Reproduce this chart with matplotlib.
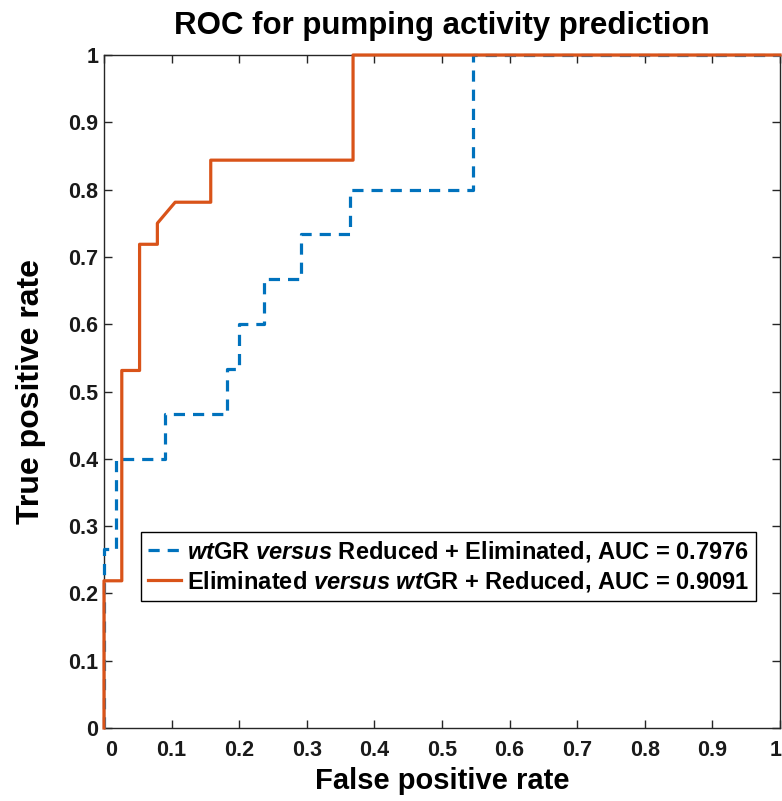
import matplotlib
matplotlib.use("Agg")
import matplotlib.pyplot as plt
import matplotlib.transforms as mtransforms
import numpy as np

# ROC points
fpr_wt = [0, 0, 1/55, 1/55, 5/55, 5/55, 10/55, 10/55, 11/55, 11/55, 13/55, 13/55,
          16/55, 16/55, 20/55, 20/55, 30/55, 30/55, 1]
tpr_wt = [0, 4/15, 4/15, 6/15, 6/15, 7/15, 7/15, 8/15, 8/15, 9/15, 9/15, 10/15,
          10/15, 11/15, 11/15, 12/15, 12/15, 1, 1]

fpr_el = [0, 0, 1/38, 1/38, 2/38, 2/38, 3/38, 3/38, 4/38, 6/38, 6/38, 14/38, 14/38, 1]
tpr_el = [0, 7/32, 7/32, 17/32, 17/32, 23/32, 23/32, 24/32, 25/32, 25/32, 27/32, 27/32, 1, 1]

labels = [r'$\mathit{wt}$GR $\mathit{versus}$ Reduced + Eliminated, AUC = 0.7976',
          r'Eliminated $\mathit{versus}$ $\mathit{wt}$GR + Reduced, AUC = 0.9091']
ticks = np.round(np.arange(0, 1.01, 0.1), 1)
tick_labels = ['0' if t == 0 else ('1' if t == 1 else '%.1f' % t) for t in ticks]

plt.rcParams['font.family'] = 'Liberation Sans'
plt.rcParams['font.weight'] = 'bold'
plt.rcParams['mathtext.fontset'] = 'custom'
plt.rcParams['mathtext.it'] = 'Liberation Sans:bold:italic'
plt.rcParams['mathtext.rm'] = 'Liberation Sans:bold'

fig = plt.figure(figsize=(7.82, 8.01), dpi=100)
ax = fig.add_axes([104/782, 73/801, 676/782, 673/801])

ax.plot(fpr_wt, tpr_wt, '--', color='#0072BD', lw=2.3, dashes=(3.5, 2.5),
        label=labels[0], zorder=3, clip_on=False)
ax.plot(fpr_el, tpr_el, '-', color='#D95319', lw=2.3, label=labels[1],
        zorder=4, clip_on=False)

ax.set_xlim(0, 1)
ax.set_ylim(0, 1)
ax.set_xticks(ticks)
ax.set_xticklabels(tick_labels)
ax.set_yticks(ticks)
ax.set_yticklabels(tick_labels)
ax.tick_params(direction='in', top=True, right=True, length=6, width=1,
               color='#262626', labelsize=15.5, labelcolor='#1a1a1a')
ax.tick_params(axis='x', pad=9)
ax.tick_params(axis='y', pad=4)
for s in ax.spines.values():
    s.set_color('#262626')
    s.set_linewidth(1)

# nudge the end labels like the original
xl = ax.get_xticklabels()
xl[0].set_transform(xl[0].get_transform() + mtransforms.ScaledTranslation(7/100, 0, fig.dpi_scale_trans))
xl[-1].set_transform(xl[-1].get_transform() + mtransforms.ScaledTranslation(-4/100, 0, fig.dpi_scale_trans))

ax.set_title('ROC for pumping activity prediction', fontsize=22.5, fontweight='bold', pad=15)
ax.set_xlabel('False positive rate', fontsize=21, fontweight='bold', labelpad=4)
ax.set_ylabel('True positive rate', fontsize=23, fontweight='bold', labelpad=16)

leg = ax.legend(loc='upper left', bbox_to_anchor=(37/676, 196/673), borderaxespad=0,
                fancybox=False, edgecolor='black', framealpha=1,
                prop={'size': 17, 'weight': 'bold'}, handlelength=1.4,
                handletextpad=0.25, labelspacing=0.2, borderpad=0.3)
leg.get_frame().set_linewidth(1)

fig.savefig('out.png', dpi=100)
